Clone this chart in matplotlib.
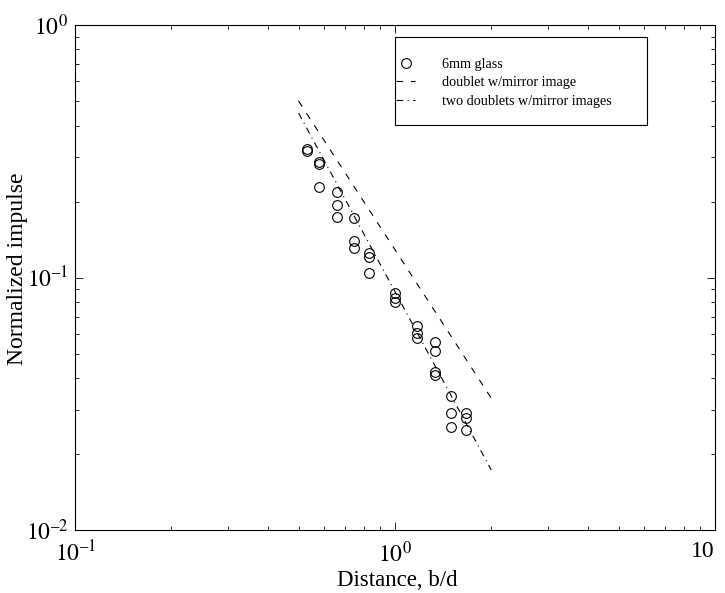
import matplotlib
matplotlib.use("Agg")
import matplotlib.pyplot as plt
from matplotlib.patches import Rectangle
from matplotlib.ticker import LogLocator, NullFormatter

plt.rcParams['font.family'] = ['Liberation Serif', 'DejaVu Serif']
plt.rcParams['mathtext.fontset'] = 'stix'

# measured data: 6mm glass
glass_x = [0.53, 0.53, 0.58, 0.58, 0.58, 0.66, 0.66, 0.66, 0.745, 0.745, 0.745,
           0.83, 0.83, 0.83, 1.0, 1.0, 1.0, 1.17, 1.17, 1.17, 1.33, 1.33,
           1.33, 1.33, 1.5, 1.5, 1.5, 1.67, 1.67, 1.67]
glass_y = [0.323, 0.317, 0.2875, 0.281, 0.229, 0.219, 0.194, 0.174, 0.172, 0.140, 0.131,
           0.125, 0.121, 0.1045, 0.0866, 0.0827, 0.0802, 0.0643, 0.0601, 0.0574, 0.0557, 0.0513,
           0.0424, 0.0411, 0.0340, 0.0292, 0.0257, 0.0292, 0.0279, 0.0249]

# model curves
doublet_x = [0.5, 2.0]
doublet_y = [0.50, 0.0333]
two_doublets_x = [0.5, 2.0]
two_doublets_y = [0.448, 0.0173]

x_ticks = [0.1, 1.0, 10.0]
x_ticklabels = [r'$10^{–1}$', r'$10^{0}$', '10']
y_ticks = [0.01, 0.1, 1.0]
y_ticklabels = [r'$10^{–2}$', r'$10^{–1}$', r'$10^{0}$']

fig = plt.figure(figsize=(7.25, 5.93), dpi=100)
ax = fig.add_axes([0.1034, 0.1062, 0.8826, 0.8516])

ax.plot(glass_x, glass_y, linestyle='none', marker='o', markersize=7,
        markerfacecolor='none', markeredgecolor='black', markeredgewidth=0.8,
        label='6mm glass')
ax.plot(doublet_x, doublet_y, color='black', linewidth=0.8,
        dashes=(6, 7), label='doublet w/mirror image')
ax.plot(two_doublets_x, two_doublets_y, color='black', linewidth=0.8,
        dashes=(6, 4, 1, 4), label='two doublets w/mirror images')

ax.set_xscale('log')
ax.set_yscale('log')
ax.set_xlim(0.1, 10)
ax.set_ylim(0.01, 1)

ax.set_xticks(x_ticks, x_ticklabels)
ax.set_yticks(y_ticks, y_ticklabels)
ax.xaxis.set_minor_locator(LogLocator(base=10, subs=range(2, 10)))
ax.yaxis.set_minor_locator(LogLocator(base=10, subs=range(2, 10)))
ax.xaxis.set_minor_formatter(NullFormatter())
ax.yaxis.set_minor_formatter(NullFormatter())
ax.get_xticklabels()[-1].set_horizontalalignment('right')

ax.tick_params(which='both', direction='in', top=True, right=True, width=0.6)
ax.tick_params(which='major', length=6, labelsize=17)
ax.tick_params(axis='x', which='major', pad=8)
ax.tick_params(axis='y', which='major', pad=5)
ax.tick_params(which='minor', length=3)
for s in ax.spines.values():
    s.set_linewidth(0.8)

ax.set_xlabel('Distance, b/d', fontsize=16.5)
ax.set_ylabel('Normalized impulse', fontsize=17)
ax.xaxis.set_label_coords(0.503, -0.079)
ax.yaxis.set_label_coords(-0.074, 0.517)

# legend frame
ax.add_patch(Rectangle((0.5, 0.802), 0.394, 0.174, transform=ax.transAxes,
                       facecolor='white', edgecolor='black', linewidth=0.8, zorder=4))
leg = ax.legend(loc='upper left', bbox_to_anchor=(0.502, 0.934), fontsize=10.2,
                frameon=False, borderpad=0, borderaxespad=0,
                handlelength=1.35, handletextpad=1.9, labelspacing=0.36)
leg.set_zorder(5)

fig.savefig('out.png', dpi=100, facecolor='white')
